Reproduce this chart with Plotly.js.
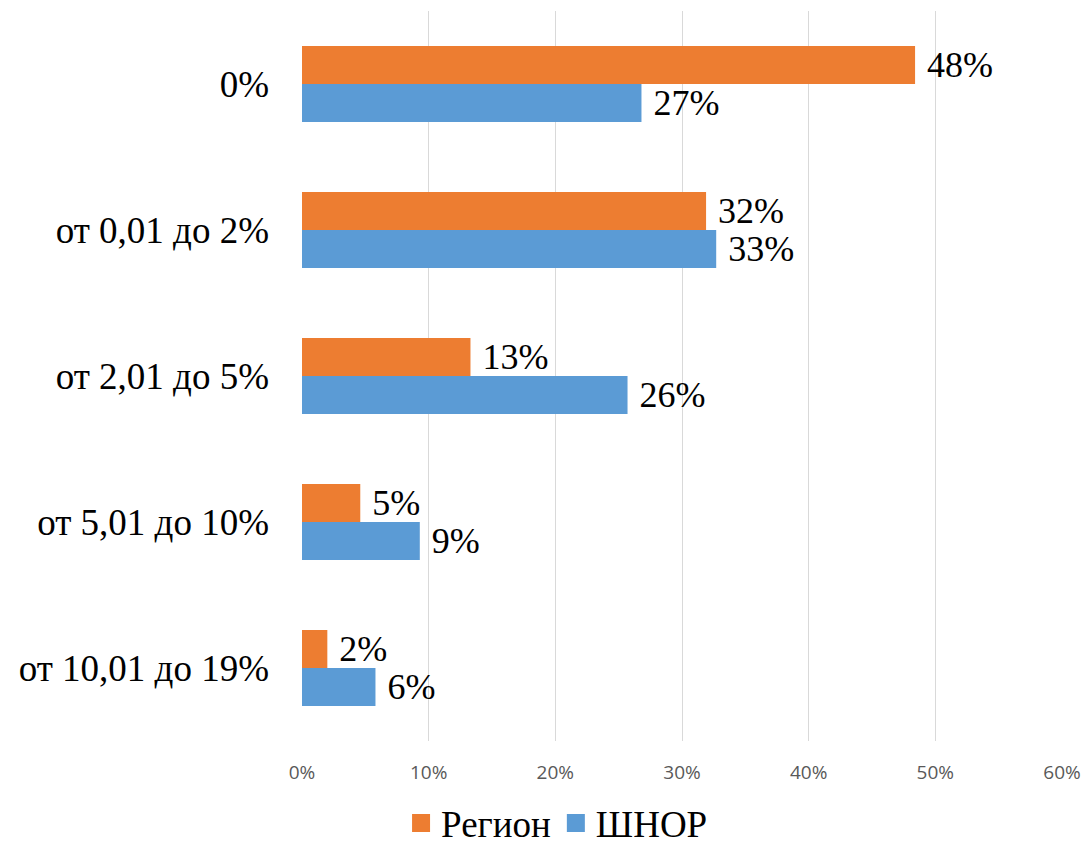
<!DOCTYPE html>
<html>
<head>
<meta charset="utf-8">
<script src="https://cdn.plot.ly/plotly-3.0.1.min.js"></script>
<style>
html,body{margin:0;padding:0;background:#fff;}
#chart{width:1088px;height:848px;}
</style>
</head>
<body>
<div id="chart"></div>
<script>
const categories = ["0%", "от 0,01 до 2%", "от 2,01 до 5%", "от 5,01 до 10%", "от 10,01 до 19%"];
const seriesNames = ["Регион", "ШНОР"];
const regionValues = [0.484, 0.319, 0.133, 0.046, 0.020];
const shnorValues = [0.268, 0.327, 0.257, 0.093, 0.058];
const regionLabels = ["48%", "32%", "13%", "5%", "2%"];
const shnorLabels = ["27%", "33%", "26%", "9%", "6%"];
const xTickValues = [0, 0.1, 0.2, 0.3, 0.4, 0.5, 0.6];
const xTickLabels = ["0%", "10%", "20%", "30%", "40%", "50%", "60%"];

const serif = "'Liberation Serif', 'Times New Roman', serif";
const pad = s => "\u00a0" + s;

const traces = [
  {
    type: "bar", orientation: "h", name: seriesNames[0],
    y: categories, x: regionValues,
    text: regionLabels.map(pad), textposition: "outside", constraintext: "none",
    cliponaxis: false,
    textfont: {family: serif, size: 36, color: "#000"},
    marker: {color: "#ED7D31"},
    hoverinfo: "none"
  },
  {
    type: "bar", orientation: "h", name: seriesNames[1],
    y: categories, x: shnorValues,
    text: shnorLabels.map(pad), textposition: "outside", constraintext: "none",
    cliponaxis: false,
    textfont: {family: serif, size: 36, color: "#000"},
    marker: {color: "#5B9BD5"},
    hoverinfo: "none"
  }
];

const layout = {
  width: 1088, height: 848,
  margin: {l: 302, r: 26, t: 11, b: 107},
  paper_bgcolor: "#fff", plot_bgcolor: "#fff",
  barmode: "group", bargap: 0.48, bargroupgap: 0,
  showlegend: true,
  legend: {
    orientation: "h", xref: "container", yref: "container",
    x: 0.512, xanchor: "center", y: 0.029, yanchor: "middle",
    font: {family: serif, size: 37, color: "#000"},
    traceorder: "normal"
  },
  xaxis: {
    range: [0, 0.6], tickvals: xTickValues, ticktext: xTickLabels,
    showgrid: true, gridcolor: "#D9D9D9", gridwidth: 1,
    zeroline: false, showline: false, ticks: "",
    ticklabelstandoff: 18,
    tickfont: {family: "'Open Sans', sans-serif", size: 19, color: "#595959"},
    fixedrange: true
  },
  yaxis: {
    type: "category", autorange: "reversed",
    showgrid: false, zeroline: false, showline: false, ticks: "",
    ticklabelstandoff: 32,
    tickfont: {family: serif, size: 37, color: "#000"},
    fixedrange: true
  }
};

Plotly.newPlot("chart", traces, layout, {displayModeBar: false, staticPlot: true}).then(gd => {
  gd.querySelectorAll(".legendpoints path").forEach(p => {
    p.setAttribute("d", "M9,9H-9V-9H9Z");
  });
});
</script>
</body>
</html>
